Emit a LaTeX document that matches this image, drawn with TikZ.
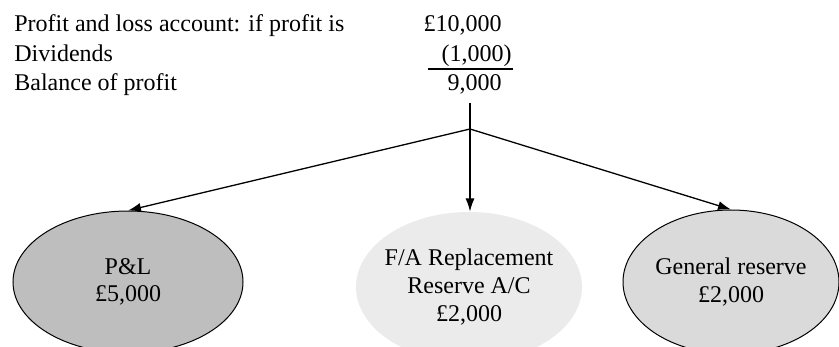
\documentclass[tikz,border=0pt]{standalone}
\usepackage{fontspec}
\setmainfont{Liberation Serif}
\usetikzlibrary{shapes.geometric,arrows.meta}
\definecolor{plgrey}{HTML}{BEBEBE}
\definecolor{fagrey}{HTML}{EBEBEB}
\definecolor{gengrey}{HTML}{DADADA}

\begin{document}
\begin{tikzpicture}[
    x=0.5pt, y=-0.5pt,
    node distance=169pt,
    every node/.style={font=\fontsize{12}{13.8}\selectfont},
    item/.style={anchor=base west, inner sep=0pt},
    amount/.style={anchor=base east, inner sep=0pt},
    account/.style={ellipse, inner sep=0pt, align=center, minimum width=115pt, minimum height=71pt, line width=0.5pt},
    arrow/.style={->, >={Latex[length=6.5pt,width=4.5pt]}, line width=0.65pt}
]
\useasboundingbox (0,0) rectangle (839,347);

% Profit statement - labels left, amounts right
\node[item] (profit) at (14,32) {Profit and loss account: if profit is};
\node[item] (div) at (14,62) {Dividends};
\node[item] (bal) at (14,91) {Balance of profit};

\node[amount] (profitamt) at (502,32) {£10,000};
\node[amount] (divamt) at (512,62) {(1,000)};
\node[amount] (balamt) at (502,91) {9,000};
\draw[line width=0.6pt] (428,69) -- (513,69);

% Accounts the balance goes to
\node[account, draw, fill=plgrey] (pl) at (128,282) {P\&L\\£5,000};
\node[account, fill=fagrey, right of=pl, xshift=1.5pt, yshift=-2.5pt, minimum width=113pt, minimum height=75pt, inner xsep=-4pt] (fa) {F/A Replacement\\Reserve A/C\\£2,000};
\node[account, draw, fill=gengrey, right of=fa, xshift=-38pt, yshift=2.5pt, minimum width=108pt, minimum height=72pt] (gen) {General reserve\\£2,000};

% Arrows
\coordinate (stem) at (470,103);
\coordinate (split) at (470,129);
\draw[line width=0.65pt] (stem) -- (split);
\draw[arrow] (split) -- (pl.north);
\draw[arrow] (split) -- (split |- fa.north);
\draw[arrow] (split) -- (gen.north);

\end{tikzpicture}
\end{document}
